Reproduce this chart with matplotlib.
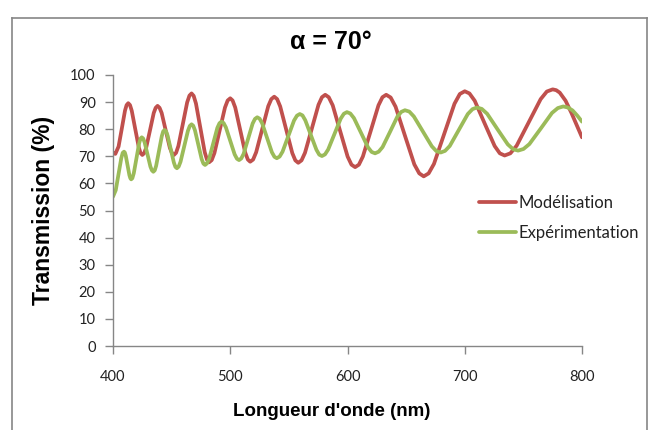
import matplotlib
matplotlib.use("Agg")
import matplotlib.pyplot as plt
from matplotlib.lines import Line2D

# ---- data ----
wl_model = [400, 402, 404.75, 407.5, 410.25, 411.6, 413, 414.5, 416, 419,
            422, 423.5, 425, 426.5, 428.25, 431.5, 434.75, 436.4, 438, 439.7,
            441.5, 445, 448.5, 450.3, 452, 453.8, 455.75, 459.5, 463.25, 465.2,
            467, 468.8, 470.75, 474.5, 478.25, 480.2, 482, 484.2, 486.5, 491,
            495.5, 497.8, 500, 502, 504.25, 508.5, 512.75, 515, 517, 519.5,
            522.1, 527.25, 532.4, 535, 537.5, 540, 542.6, 547.75, 552.9, 555.5,
            558, 560.8, 563.75, 569.5, 575.25, 578.2, 581, 584, 587.4, 593.75,
            600.1, 603.4, 606.5, 609.7, 613.1, 619.75, 626.4, 629.8, 633, 636.8,
            641, 649, 657, 661.2, 665, 669.2, 673.75, 682.5, 691.25, 695.8,
            700, 704, 708.5, 717, 725.5, 729.9, 734, 738.9, 744.25, 754.5,
            764.75, 770, 775, 778, 781, 786, 791, 795, 800]
t_model = [71.2, 70.9, 73.6, 80.2, 86.9, 88.9, 89.6, 88.9, 86.8, 80.0,
           73.3, 71.2, 70.5, 71.1, 73.1, 79.5, 86.0, 87.9, 88.6, 87.9,
           86.0, 79.5, 73.1, 71.2, 70.5, 71.3, 73.8, 81.8, 89.9, 92.4,
           93.2, 92.3, 89.5, 80.5, 71.5, 68.7, 67.8, 68.6, 71.2, 79.6,
           88.0, 90.6, 91.4, 90.6, 88.0, 79.7, 71.4, 68.8, 68.0, 68.8,
           71.5, 80.0, 88.5, 91.1, 92.0, 91.1, 88.4, 79.8, 71.2, 68.5,
           67.6, 68.5, 71.3, 80.1, 89.0, 91.8, 92.7, 91.8, 88.8, 79.3,
           69.9, 66.9, 66.0, 66.9, 69.9, 79.3, 88.8, 91.8, 92.7, 91.7,
           88.3, 77.6, 67.0, 63.7, 62.6, 63.7, 67.2, 78.3, 89.4, 93.0,
           94.0, 93.2, 90.5, 82.1, 73.8, 71.1, 70.3, 71.1, 73.9, 82.5,
           91.1, 93.9, 94.7, 94.4, 93.5, 90.5, 86.0, 82.0, 77.0]

wl_exp = [400, 402.35, 404.7, 407.05, 408.3, 409.4, 410.1, 410.9, 412.45, 414,
          414.8, 415.5, 416.5, 417.75, 420, 422.25, 423.4, 424.5, 425.7, 427,
          429.45, 431.9, 433.2, 434.4, 435.6, 436.8, 439.2, 441.6, 442.8, 444,
          445.3, 446.6, 449.25, 451.9, 453.2, 454.5, 456, 457.6, 460.75, 463.9,
          465.5, 467, 468.4, 469.9, 472.75, 475.6, 477.1, 478.5, 480.2, 482,
          485.5, 489, 490.8, 492.5, 494.3, 496.25, 500, 503.75, 505.7, 507.5,
          509.4, 511.4, 515.25, 519.1, 521.1, 523, 525, 527.2, 531.35, 535.5,
          537.7, 539.7, 542.1, 544.6, 549.5, 554.4, 556.9, 559.3, 561.6, 564,
          568.75, 573.5, 575.9, 578.2, 580.8, 583.5, 588.85, 594.2, 596.9, 599.5,
          602.4, 605.5, 611.5, 617.5, 620.6, 623.5, 626.6, 629.9, 636.25, 642.6,
          645.9, 649, 652.7, 656.6, 664.25, 671.9, 675.8, 679.5, 683.2, 687.2,
          694.9, 702.6, 706.6, 710.3, 714.5, 719.1, 727.9, 736.7, 741.3, 745.5,
          750.1, 755.1, 764.75, 774.4, 779.4, 784, 788, 792, 796, 800]
t_exp = [55.1, 57.5, 63.4, 69.3, 71.3, 71.7, 71.4, 70.2, 66.6, 63.0,
         61.9, 61.5, 61.9, 63.8, 69.2, 74.7, 76.5, 77.0, 76.6, 75.1,
         70.6, 66.2, 64.8, 64.3, 64.8, 66.5, 72.0, 77.4, 79.2, 79.7,
         79.2, 77.6, 72.6, 67.7, 66.1, 65.6, 66.2, 68.0, 73.7, 79.4,
         81.2, 81.8, 81.3, 79.6, 74.3, 69.0, 67.3, 66.8, 67.4, 69.1,
         74.8, 80.5, 82.2, 82.8, 82.3, 80.7, 75.7, 70.7, 69.1, 68.6,
         69.2, 70.9, 76.5, 82.1, 83.8, 84.4, 83.9, 82.2, 76.8, 71.5,
         69.8, 69.3, 69.9, 71.7, 77.4, 83.2, 85.0, 85.6, 85.1, 83.3,
         77.8, 72.4, 70.6, 70.1, 70.7, 72.5, 78.2, 83.9, 85.7, 86.3,
         85.8, 84.1, 78.7, 73.3, 71.6, 71.1, 71.7, 73.4, 79.0, 84.7,
         86.4, 87.0, 86.5, 84.7, 79.2, 73.7, 71.9, 71.4, 72.0, 73.8,
         79.7, 85.6, 87.4, 88.0, 87.5, 85.7, 80.0, 74.4, 72.6, 72.1,
         72.7, 74.5, 80.2, 86.0, 87.8, 88.4, 88.0, 86.9, 85.0, 82.8]

series_names = ["Modélisation", "Expérimentation"]
title = "α = 70°"
xlabel = "Longueur d'onde (nm)"
ylabel = "Transmission (%)"
xticks = [400, 500, 600, 700, 800]
yticks = list(range(0, 101, 10))

# ---- figure ----
W, H = 650, 430
fig = plt.figure(figsize=(W / 100, H / 100), dpi=100)
ax = fig.add_axes([113 / W, 1 - 346 / H, (582 - 113) / W, (346 - 75) / H])

red = "#C0504D"
green = "#9BBB59"
ax.plot(wl_model, t_model, color=red, lw=2.7, label=series_names[0],
        solid_capstyle="round", solid_joinstyle="round")
ax.plot(wl_exp, t_exp, color=green, lw=2.7, label=series_names[1],
        solid_capstyle="round", solid_joinstyle="round")

ax.set_xlim(400, 800)
ax.set_ylim(0, 100)
ax.set_xticks(xticks)
ax.set_yticks(yticks)

tickfont = "Lato"
for s in ["top", "right"]:
    ax.spines[s].set_visible(False)
for s in ["left", "bottom"]:
    ax.spines[s].set_color("#868686")
    ax.spines[s].set_linewidth(1.0)
ax.tick_params(axis="both", direction="out", length=5.5, width=1.0, color="#868686",
               labelsize=10.5, labelcolor="#222222")
ax.tick_params(axis="y", pad=7)
ax.tick_params(axis="x", pad=12)
for lab in ax.get_xticklabels() + ax.get_yticklabels():
    lab.set_fontfamily(tickfont)

ax.set_xlabel(xlabel, fontsize=13.5, fontweight="bold", family="Liberation Sans")
ax.set_ylabel(ylabel, fontsize=16.5, fontweight="bold", family="Liberation Sans")
ax.yaxis.set_label_coords(-(113 - 55) / (582 - 113), 0.5)
ax.xaxis.set_label_coords((332 - 113) / (582 - 113), -(403 - 346) / (346 - 75))

fig.text(331 / W, 1 - 42 / H, title, ha="center", va="center", fontsize=18,
         fontweight="bold", family="Liberation Sans")

leg = ax.legend(loc="center left", bbox_to_anchor=(479 / W, 1 - 218 / H),
                bbox_transform=fig.transFigure, frameon=False,
                prop={"family": tickfont, "size": 12}, handlelength=2.2,
                handletextpad=0.2, labelspacing=0.85, borderpad=0, borderaxespad=0)
for t in leg.get_texts():
    t.set_color("#222222")

# outer frame of the chart area
fig.add_artist(Line2D([12 / W, 12 / W], [0, 1 - 18 / H], transform=fig.transFigure,
                      color="#868686", lw=1.2))
fig.add_artist(Line2D([12 / W, 647 / W], [1 - 18 / H, 1 - 18 / H], transform=fig.transFigure,
                      color="#868686", lw=1.2))
fig.add_artist(Line2D([647 / W, 647 / W], [0, 1 - 18 / H], transform=fig.transFigure,
                      color="#868686", lw=1.2))

fig.savefig("out.png", dpi=100)
